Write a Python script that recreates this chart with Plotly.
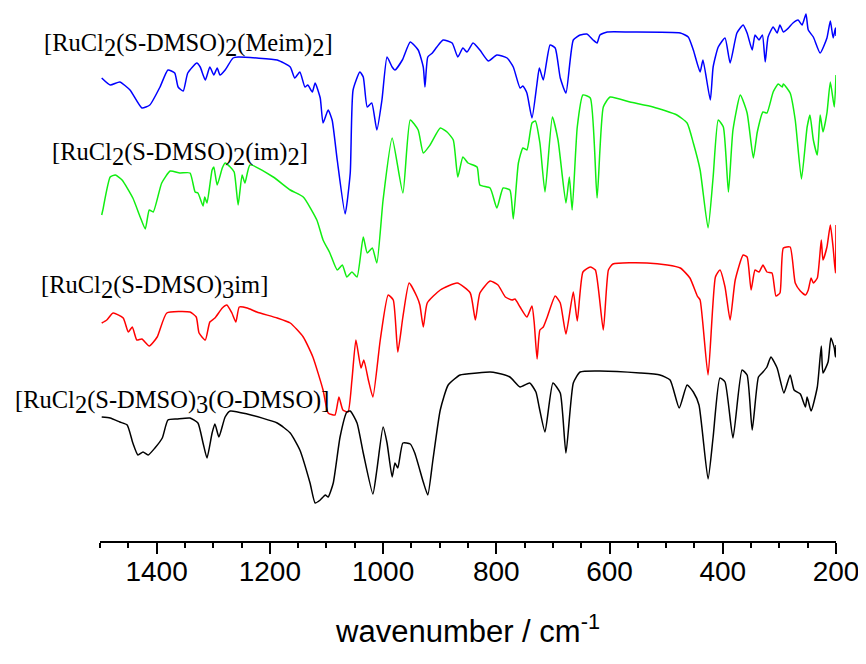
import plotly.graph_objects as go

# wavenumber (cm-1) and stacked intensity (arbitrary units, offset per trace)
meim_wn = [1497, 1482, 1465, 1447, 1426, 1412, 1394, 1380, 1368, 1362, 1353, 1345, 1329, 1323,
           1314, 1306, 1299, 1293, 1288, 1279, 1265, 1256, 1223, 1187, 1164, 1156, 1147, 1138,
           1133, 1125, 1120, 1111, 1106, 1097, 1090, 1081, 1067, 1058, 1053, 1041, 1035, 1028,
           1020, 1011, 1002, 993, 984, 979, 966, 952, 938, 929, 926, 921, 913, 905, 894, 878,
           868, 859, 852, 841, 829, 814, 799, 781, 770, 758, 753, 746, 737, 728, 724, 717, 705,
           696, 687, 677, 664, 652, 640, 629, 622, 617, 604, 564, 475, 461, 452, 440, 435, 422,
           417, 408, 396, 387, 375, 364, 357, 348, 343, 336, 330, 325, 320, 311, 304, 299, 293,
           284, 276, 267, 260, 253, 249, 240, 228, 216, 210, 205, 201, 200]
meim_y = [463, 456, 459, 451, 433, 436, 454, 471, 468, 454, 450, 468, 478, 474,
          461, 474, 466, 473, 466, 471, 483, 484, 483, 481, 474, 463, 469, 454,
          456, 449, 458, 443, 418, 431, 421, 381, 327, 368, 451, 469, 464, 434,
          438, 411, 441, 484, 474, 471, 481, 499, 491, 474, 454, 484, 488, 494, 501, 498,
          484, 493, 489, 498, 491, 480, 486, 483, 474, 453, 455, 448, 423, 458, 473, 461, 496,
          493, 463, 448, 501, 506, 507, 501, 498, 506, 509, 509, 508, 504, 491, 469, 481, 441,
          474, 494, 503, 478, 508, 516, 508, 491, 506, 501, 506, 479, 504, 514, 508, 516, 509,
          513, 518, 521, 516, 527, 511, 504, 488, 503, 520, 503, 513, 505]

im2_wn = [1497, 1495, 1482, 1473, 1461, 1442, 1429, 1420, 1413, 1406, 1391, 1376, 1359, 1341,
          1332, 1327, 1318, 1315, 1311, 1302, 1299, 1293, 1284, 1279, 1270, 1263, 1256, 1249,
          1244, 1235, 1194, 1164, 1141, 1117, 1106, 1094, 1081, 1072, 1064, 1055, 1046, 1035,
          1028, 1019, 1011, 1000, 984, 965, 952, 938, 929, 917, 899, 887, 876, 868, 859, 850,
          834, 829, 811, 799, 788, 776, 770, 761, 753, 746, 737, 731, 723, 714, 701, 691, 677,
          671, 666, 657, 647, 634, 622, 611, 599, 564, 523, 481, 463, 452, 440, 426, 417, 408,
          399, 390, 382, 369, 357, 346, 339, 329, 322, 311, 302, 295, 293, 281, 272, 261, 251,
          246, 240, 233, 228, 223, 216, 210, 203, 200]
im2_y = [326, 331, 364, 366, 361, 343, 324, 312, 331, 329, 358, 370, 368, 368,
         349, 348, 335, 344, 338, 371, 374, 356, 373, 378, 374, 369, 336, 366,
         358, 376, 364, 351, 344, 321, 301, 288, 271, 276, 264, 269, 264, 304,
         288, 293, 278, 341, 403, 348, 421, 411, 388, 396, 413, 409, 401, 364, 384, 378,
         374, 356, 353, 333, 353, 351, 322, 378, 393, 391, 418, 420, 398, 349, 424, 401, 338,
         364, 331, 414, 446, 443, 343, 434, 444, 439, 434, 426, 418, 398, 371, 313, 364, 421,
         414, 349, 411, 446, 428, 383, 409, 429, 428, 449, 457, 454, 457, 448, 421, 362, 414,
         426, 401, 386, 426, 409, 428, 459, 434, 466]

im_wn = [1497, 1488, 1477, 1459, 1450, 1443, 1435, 1426, 1413, 1399, 1382, 1341, 1330, 1325,
         1314, 1306, 1297, 1284, 1276, 1267, 1260, 1254, 1240, 1223, 1187, 1164, 1141, 1124,
         1106, 1097, 1085, 1078, 1071, 1062, 1055, 1048, 1039, 1034, 1026, 1018, 1005, 991,
         982, 974, 965, 954, 940, 935, 929, 922, 899, 869, 846, 837, 829, 811, 797, 784, 772,
         767, 758, 746, 737, 733, 728, 723, 717, 710, 696, 687, 677, 664, 657, 647, 634, 625,
         611, 602, 594, 534, 498, 475, 458, 445, 440, 426, 413, 405, 396, 387, 378, 364, 357,
         350, 343, 336, 329, 322, 313, 306, 299, 293, 281, 272, 263, 254, 249, 244, 240, 233,
         226, 223, 216, 210, 205, 201, 200]
im_y = [218, 221, 228, 223, 209, 214, 201, 202, 195, 204, 228, 229, 224, 208,
        201, 219, 223, 233, 236, 228, 219, 234, 233, 229, 223, 218, 204, 184,
        151, 128, 126, 144, 131, 129, 161, 201, 173, 181, 161, 144, 201, 246,
        241, 189, 224, 258, 244, 236, 214, 238, 251, 258, 248, 221, 248, 260, 256, 244, 241,
        242, 234, 224, 235, 218, 182, 211, 214, 224, 245, 238, 207, 249, 220, 269, 274, 271,
        211, 271, 277, 278, 276, 273, 263, 245, 241, 166, 264, 271, 254, 221, 261, 286, 284,
        251, 271, 269, 276, 269, 268, 245, 248, 293, 294, 258, 250, 246, 251, 263, 258, 263,
        301, 281, 294, 316, 293, 268, 316]

odmso_wn = [1497, 1482, 1465, 1452, 1442, 1433, 1424, 1415, 1403, 1390, 1380, 1364, 1341, 1327,
            1318, 1311, 1302, 1297, 1290, 1279, 1270, 1240, 1187, 1164, 1147, 1129, 1120, 1111,
            1102, 1097, 1088, 1076, 1064, 1058, 1046, 1035, 1018, 1011, 1000, 993, 984, 979,
            974, 965, 952, 944, 929, 921, 912, 899, 885, 864, 834, 811, 799, 776, 758, 741, 730,
            724, 714, 700, 687, 677, 664, 652, 617, 546, 511, 493, 477, 463, 452, 442, 426, 417,
            405, 396, 382, 366, 357, 348, 337, 329, 322, 315, 304, 292, 281, 274, 263, 254, 251,
            244, 233, 226, 223, 214, 209, 203, 201, 200]
odmso_y = [124, 123, 119, 116, 98, 86, 89, 86, 93, 103, 121, 122, 123, 118,
           98, 83, 108, 117, 104, 124, 130, 127, 118, 108, 91, 58, 38, 41,
           46, 44, 58, 104, 129, 130, 118, 88, 47, 71, 114, 98, 64, 78,
           73, 98, 97, 88, 59, 46, 81, 131, 156, 166, 168, 169, 168, 164, 154, 158, 149,
           133, 109, 158, 148, 88, 158, 169, 170, 168, 166, 161, 133, 156, 149, 136, 62, 104,
           163, 159, 103, 171, 166, 111, 164, 169, 174, 184, 173, 148, 166, 151, 147, 134, 144,
           130, 154, 195, 168, 179, 203, 193, 184, 196]

SUB = '<sub><span style="font-size:24.5px">{}</span></sub>'
names = [
    "[RuCl" + SUB.format(2) + "(S-DMSO)" + SUB.format(2) + "(Meim)" + SUB.format(2) + "]",
    "[RuCl" + SUB.format(2) + "(S-DMSO)" + SUB.format(2) + "(im)" + SUB.format(2) + "]",
    "[RuCl" + SUB.format(2) + "(S-DMSO)" + SUB.format(3) + "im]",
    "[RuCl" + SUB.format(2) + "(S-DMSO)" + SUB.format(3) + "(O-DMSO)]",
]
colors = ["#0000ff", "#11ee11", "#ff0000", "#000000"]
spectra = [(meim_wn, meim_y), (im2_wn, im2_y), (im_wn, im_y), (odmso_wn, odmso_y)]

fig = go.Figure()
for name, color, (wn, y) in zip(names, colors, spectra):
    fig.add_trace(go.Scatter(x=wn, y=y, mode="lines", name=name,
                             line=dict(color=color, width=1.5, shape="spline", smoothing=0.5)))

# labels next to each spectrum
label_pos = [(-0.079, 0.931), (-0.068, 0.726), (-0.083, 0.477), (-0.118, 0.261)]
annotations = []
for name, (lx, ly) in zip(names, label_pos):
    annotations.append(dict(
        text=name, xref="paper", yref="paper", x=lx, y=ly,
        xanchor="left", yanchor="middle", showarrow=False,
        font=dict(family="Liberation Serif", size=24.5, color="black")
    ))

# the page body adds an 8px margin, so the figure is drawn 8px smaller
fig.update_layout(
    width=858, height=656,
    margin=dict(l=92, r=30, t=0, b=123),
    plot_bgcolor="white", paper_bgcolor="white",
    showlegend=False,
    annotations=annotations,
    xaxis=dict(
        range=[1500, 200],
        tickvals=[1400, 1200, 1000, 800, 600, 400, 200],
        ticks="outside", ticklen=11, tickwidth=2, tickcolor="black",
        ticklabelstandoff=-7,
        showline=True, linewidth=2, linecolor="black",
        showgrid=False, zeroline=False,
        tickfont=dict(family="Liberation Sans", size=28, color="black"),
        minor=dict(dtick=50, tick0=0, ticks="outside", ticklen=5, tickwidth=2,
                   tickcolor="black", showgrid=False),
        title=dict(text="wavenumber / cm<sup>-1</sup>", standoff=35,
                   font=dict(family="Liberation Sans", size=31, color="black")),
    ),
    yaxis=dict(range=[0, 533], visible=False, showgrid=False, zeroline=False),
)

fig.write_html("out.html")
